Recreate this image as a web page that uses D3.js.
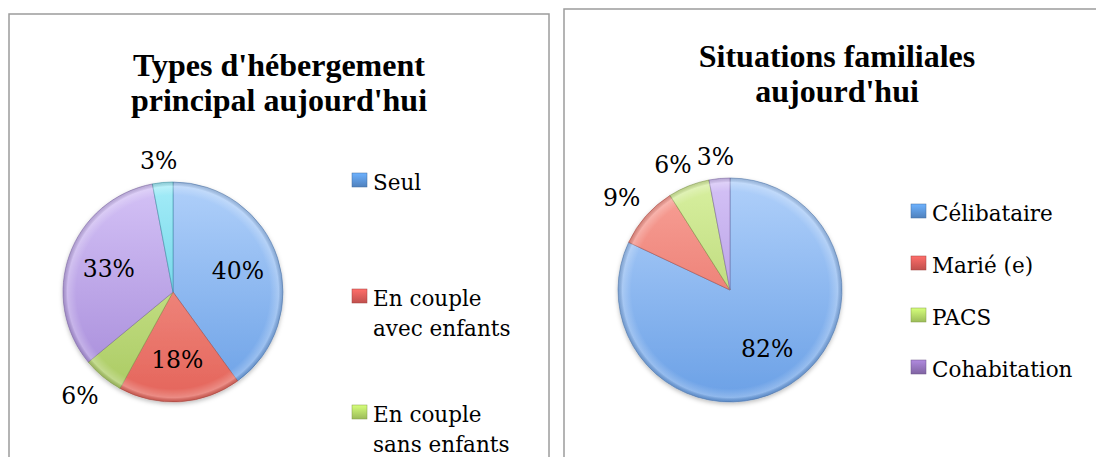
<!DOCTYPE html>
<html>
<head>
<meta charset="utf-8">
<script src="https://cdn.jsdelivr.net/npm/d3@7"></script>
<style>
  body { margin: 0; background: #fff; }
  svg { display: block; }
</style>
</head>
<body>
<svg id="chart" width="1096" height="457"></svg>
<script>
// Left chart data
var hebergementTitle = ["Types d'hébergement", "principal aujourd'hui"];
var hebergementCats = ["Seul", "En couple avec enfants", "En couple sans enfants", null, null];
var hebergementValues = [40, 18, 6, 33, 3];

// Right chart data
var familleTitle = ["Situations familiales", "aujourd'hui"];
var familleCats = ["Célibataire", "Marié (e)", "PACS", "Cohabitation"];
var familleValues = [82, 9, 6, 3];

// slice colours: light top / darker bottom, legend swatch colour
var palette = [
  {top: "#b0d0fa", bottom: "#6aa0e6", swatch: "#4f81bd"},
  {top: "#f8a298", bottom: "#e4645a", swatch: "#c0504d"},
  {top: "#d8f0a0", bottom: "#a9c961", swatch: "#9bbb59"},
  {top: "#d4c2f6", bottom: "#a488d8", swatch: "#8064a2"},
  {top: "#a4ecf8", bottom: "#4cc4dc", swatch: "#4bacc6"}
];

var svg = d3.select("#chart");
var defs = svg.append("defs");

// soft shadow under the pies
var shadow = defs.append("filter").attr("id", "shadow")
    .attr("x", "-20%").attr("y", "-20%").attr("width", "140%").attr("height", "140%");
shadow.append("feDropShadow").attr("dx", 0).attr("dy", 2).attr("stdDeviation", 2)
    .attr("flood-color", "#000").attr("flood-opacity", 0.25);

// swatch gradients (bevel look)
palette.forEach(function(c, i) {
  var g = defs.append("linearGradient").attr("id", "sw" + i)
      .attr("x1", 0).attr("y1", 0).attr("x2", 0).attr("y2", 1);
  g.append("stop").attr("offset", "0%").attr("stop-color", d3.color(c.swatch).brighter(0.9));
  g.append("stop").attr("offset", "100%").attr("stop-color", c.swatch);
});

function clamp1(v) { return Math.max(-1, Math.min(1, v)); }

function drawPanel(opts) {
  var panel = svg.append("g").attr("class", "panel");

  panel.append("rect")
      .attr("x", opts.box[0]).attr("y", opts.box[1])
      .attr("width", opts.box[2]).attr("height", opts.box[3])
      .attr("fill", "#fff").attr("stroke", "#9c9c9c").attr("stroke-width", 1.5);

  // title
  var title = panel.append("text")
      .attr("text-anchor", "middle")
      .attr("font-family", "'Liberation Serif', 'Times New Roman', serif")
      .attr("font-weight", "bold").attr("font-size", 32).attr("fill", "#000");
  opts.title.forEach(function(line, i) {
    title.append("tspan").attr("x", opts.box[0] + opts.box[2] / 2)
        .attr("y", opts.titleY + i * 35).text(line);
  });

  var r = opts.radius;
  var pie = d3.pie().sort(null);
  var arcs = pie(opts.values);
  var arc = d3.arc().innerRadius(0).outerRadius(r);
  var total = d3.sum(opts.values);

  var g = panel.append("g").attr("transform", "translate(" + opts.center[0] + "," + opts.center[1] + ")");

  // per-pie vertical gradients
  palette.forEach(function(c, i) {
    var lg = defs.append("linearGradient").attr("id", opts.id + "g" + i)
        .attr("gradientUnits", "userSpaceOnUse")
        .attr("x1", 0).attr("y1", -r).attr("x2", 0).attr("y2", r);
    lg.append("stop").attr("offset", "0%").attr("stop-color", c.top);
    lg.append("stop").attr("offset", "100%").attr("stop-color", c.bottom);
  });

  var slices = g.append("g").attr("filter", "url(#shadow)");
  slices.selectAll("path.slice")
    .data(arcs)
    .enter().append("path")
      .attr("class", "slice")
      .attr("d", arc)
      .attr("fill", function(d, i) { return "url(#" + opts.id + "g" + i + ")"; })
      .attr("stroke", function(d, i) { return d3.color(palette[i].bottom).darker(0.8); })
      .attr("stroke-opacity", 0.55)
      .attr("stroke-width", 1);

  // bevel highlight along the rim
  var bevel = defs.append("radialGradient").attr("id", opts.id + "bevel")
      .attr("gradientUnits", "userSpaceOnUse").attr("cx", 0).attr("cy", 0).attr("r", r);
  bevel.append("stop").attr("offset", "88%").attr("stop-color", "#fff").attr("stop-opacity", 0);
  bevel.append("stop").attr("offset", "96%").attr("stop-color", "#fff").attr("stop-opacity", 0.25);
  bevel.append("stop").attr("offset", "100%").attr("stop-color", "#000").attr("stop-opacity", 0.12);
  g.append("circle").attr("r", r).attr("fill", "url(#" + opts.id + "bevel)").attr("pointer-events", "none");

  // percent labels: inside for big slices, outside (box beside the rim) for small ones
  var fontSize = 23.5;
  var inner = d3.arc().innerRadius(r * 0.62).outerRadius(r * 0.62);
  arcs.forEach(function(d) {
    var pct = Math.round(d.data / total * 100) + "%";
    var a = (d.startAngle + d.endAngle) / 2;
    var x, y;
    if (d.data / total >= 0.1) {
      var c = inner.centroid(d);
      x = c[0]; y = c[1];
    } else {
      var hw = 16, hh = 11;
      var gap = r + 11;
      x = Math.sin(a) * gap + clamp1(Math.sin(a) * 2) * hw;
      y = -Math.cos(a) * gap - clamp1(Math.cos(a) * 2) * hh;
    }
    g.append("text")
        .attr("x", x).attr("y", y)
        .attr("dy", "0.35em")
        .attr("text-anchor", "middle")
        .attr("font-family", "'DejaVu Serif', serif")
        .attr("font-size", fontSize).attr("fill", "#000")
        .text(pct);
  });

  // legend
  var legend = panel.append("g");
  opts.cats.forEach(function(name, i) {
    if (!name) return;
    var by = opts.legendY + i * opts.legendStep;
    legend.append("rect")
        .attr("x", opts.legendX - 21).attr("y", by - 17)
        .attr("width", 15).attr("height", 14)
        .attr("fill", "url(#sw" + i + ")")
        .attr("stroke", d3.color(palette[i].swatch).darker(0.5)).attr("stroke-width", 0.5);
    var t = legend.append("text")
        .attr("font-family", "'DejaVu Serif', serif")
        .attr("font-size", 21.5).attr("fill", "#000");
    // simple word wrap
    var words = name.split(" "), line = [], lineNo = 0;
    var tspan = t.append("tspan").attr("x", opts.legendX).attr("y", by);
    words.forEach(function(w) {
      line.push(w);
      tspan.text(line.join(" "));
      if (tspan.node().getComputedTextLength() > opts.legendWidth && line.length > 1) {
        line.pop();
        tspan.text(line.join(" "));
        line = [w];
        lineNo++;
        tspan = t.append("tspan").attr("x", opts.legendX).attr("y", by + lineNo * 30).text(w);
      }
    });
  });
}

drawPanel({
  id: "heb",
  box: [9, 14, 540, 470],
  title: hebergementTitle,
  titleY: 76,
  center: [173, 292],
  radius: 110,
  values: hebergementValues,
  cats: hebergementCats,
  legendX: 373,
  legendY: 190,
  legendStep: 116,
  legendWidth: 150
});

drawPanel({
  id: "fam",
  box: [564, 9, 546, 470],
  title: familleTitle,
  titleY: 67,
  center: [730, 290],
  radius: 112,
  values: familleValues,
  cats: familleCats,
  legendX: 932,
  legendY: 221,
  legendStep: 52,
  legendWidth: 170
});
</script>
</body>
</html>
